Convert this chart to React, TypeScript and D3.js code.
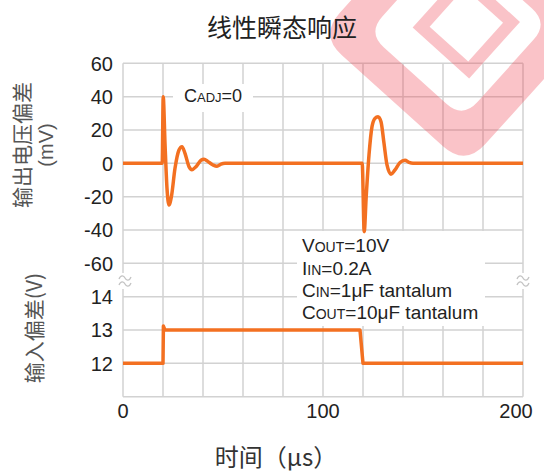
import React from 'react';
import * as d3 from 'd3';

// upper trace: output voltage deviation (mV) vs time (us)
const TIME_OUT = [0, 19.6, 20.1, 21, 22, 23, 24.2, 26, 28, 29.5, 31, 33, 34.5, 36.5, 39, 40.5, 42.5, 45, 47, 49, 51,
  119.6, 120.6, 121.6, 123, 124.5, 126, 127.5, 129, 130.5, 132, 134, 136, 138.5, 141, 143, 145, 200];
const DEV_MV = [0, 0, 40, 12, -15, -25, -20, -3, 8, 10, 6, -2, -3.8, -2, 1.8, 2.4, 1, -1, -1.8, -0.5, 0,
  0, -41, -20, 5, 22, 27, 28, 25, 12, -1, -6.5, -4, 0.5, 1.8, 0.5, 0, 0];

// lower trace: input voltage (V)
const TIME_IN = [0, 20, 20.2, 21, 118.5, 120, 200];
const VIN = [12, 12, 13.12, 13, 13, 12, 12];

const X_TICKS = [0, 100, 200];
const X_GRID = d3.range(0, 201, 20);
const MV_TICKS = [60, 40, 20, 0, -20, -40, -60];
const V_TICKS = [14, 13, 12];
const V_GRID = [14, 13, 12, 11];

const TITLE = '线性瞬态响应';
const X_TITLE = '时间（μs）';
const Y_TITLE_1 = '输出电压偏差';
const Y_TITLE_2 = '(mV)';
const Y_TITLE_IN = '输入偏差(V)';

const ORANGE = '#f37021';
const GRID = '#d2d2d2';
const SANS = 'Arial, "Liberation Sans", sans-serif';
const CJK = '"Noto Sans CJK SC", sans-serif';

const App: React.FC = () => {
  const width = 544;
  const height = 471;

  const x = d3.scaleLinear().domain([0, 200]).range([123, 523]);
  const yOut = d3.scaleLinear().domain([-60, 60]).range([263.3, 63.3]);
  const yIn = d3.scaleLinear().domain([11, 14]).range([396.7, 296.7]);

  const outLine = d3
    .line<number>()
    .x((_, i) => x(TIME_OUT[i]))
    .y((d) => yOut(d))
    .curve(d3.curveMonotoneX);

  const inLine = d3
    .line<number>()
    .x((_, i) => x(TIME_IN[i]))
    .y((d) => yIn(d));

  const top = yOut(60);
  const bottom = yIn(11);
  const breakY = (yOut(-60) + yIn(14)) / 2 + 1;

  const tilde = (cx: number, cy: number) => (
    <g transform={`translate(${cx},${cy})`} fill="none" stroke="#c4c4c4" strokeWidth={1.3}>
      <rect x={-7} y={-8} width={14} height={16} fill="#fff" stroke="none" />
      <path d="M-6,-2 C-4,-7 -1,-5 0,-3 S4,1 6,-4" />
      <path d="M-6,4 C-4,-1 -1,1 0,3 S4,7 6,2" />
    </g>
  );

  return (
    <svg width={width} height={height} style={{ position: 'absolute', left: 0, top: 0 }}>
      <rect width={width} height={height} fill="#fff" />

      {/* grid */}
      {X_GRID.map((t) => (
        <line key={`gx${t}`} x1={x(t)} x2={x(t)} y1={top} y2={bottom} stroke={GRID} strokeWidth={1.5} />
      ))}
      {MV_TICKS.map((v) => (
        <line key={`gm${v}`} x1={x(0)} x2={x(200)} y1={yOut(v)} y2={yOut(v)} stroke={GRID} strokeWidth={1.5} />
      ))}
      {V_GRID.map((v) => (
        <line key={`gv${v}`} x1={x(0)} x2={x(200)} y1={yIn(v)} y2={yIn(v)} stroke={GRID} strokeWidth={1.5} />
      ))}

      {/* watermark */}
      <g transform="translate(458,28) rotate(42)" fill="#f03c4b" opacity={0.3}>
        <path
          fillRule="evenodd"
          d="M-98,-68 Q-98,-98 -68,-98 L68,-98 Q98,-98 98,-68 L98,68 Q98,98 68,98 L-68,98 Q-98,98 -98,68 Z
             M-64,-42 Q-64,-64 -42,-64 L42,-64 Q64,-64 64,-42 L64,42 Q64,64 42,64 L-42,64 Q-64,64 -64,42 Z"
        />
        <path
          fillRule="evenodd"
          d="M-34,-46 L42,-46 L42,30 L-34,30 Z M-22,-34 L30,-34 L30,18 L-22,18 Z"
        />
      </g>

      {/* axis breaks */}
      {tilde(x(0) + 2, breakY)}
      {tilde(x(200), breakY)}

      {/* annotation boxes */}
      <rect x={173} y={84} width={80} height={28} fill="#fff" />
      <text x={184} y={102} fontFamily={SANS} fontSize={18} fill="#222">
        C<tspan fontSize={13}>ADJ</tspan>=0
      </text>

      <rect x={297} y={231} width={188} height={95} fill="#fff" />
      <g fontFamily={SANS} fontSize={19} fill="#222">
        <text x={302} y={252}>
          V<tspan fontSize={14}>OUT</tspan>=10V
        </text>
        <text x={302} y={275}>
          I<tspan fontSize={14}>IN</tspan>=0.2A
        </text>
        <text x={302} y={297}>
          C<tspan fontSize={14}>IN</tspan>=1μF tantalum
        </text>
        <text x={302} y={319}>
          C<tspan fontSize={14}>OUT</tspan>=10μF tantalum
        </text>
      </g>

      {/* traces */}
      <path d={outLine(DEV_MV) ?? ''} fill="none" stroke={ORANGE} strokeWidth={3.5} strokeLinejoin="round" />
      <path d={inLine(VIN) ?? ''} fill="none" stroke={ORANGE} strokeWidth={3.5} strokeLinejoin="round" />

      {/* y tick labels */}
      <g fontFamily={SANS} fontSize={20} fill="#222" textAnchor="end">
        {MV_TICKS.map((v) => (
          <text key={`tm${v}`} x={113} y={yOut(v)} dy="0.36em">
            {v}
          </text>
        ))}
        {V_TICKS.map((v) => (
          <text key={`tv${v}`} x={113} y={yIn(v)} dy="0.36em">
            {v}
          </text>
        ))}
      </g>

      {/* x tick labels */}
      <g fontFamily={SANS} fontSize={20} fill="#222" textAnchor="middle">
        {X_TICKS.map((t) => (
          <text key={`tx${t}`} x={x(t)} dx={t === 200 ? -7 : 0} y={418}>
            {t}
          </text>
        ))}
      </g>

      {/* titles */}
      <text x={282} y={26} textAnchor="middle" dominantBaseline="central" fontFamily={CJK} fontSize={25} fill="#222">
        {TITLE}
      </text>
      <text x={276} y={455} textAnchor="middle" dominantBaseline="central" fontFamily={CJK} fontSize={24} fill="#333">
        {X_TITLE}
      </text>
      <text
        transform="translate(21,145) rotate(-90)"
        textAnchor="middle"
        dominantBaseline="central"
        fontFamily={CJK}
        fontSize={21}
        fill="#555"
      >
        {Y_TITLE_1}
      </text>
      <text
        transform="translate(46,145) rotate(-90)"
        textAnchor="middle"
        dominantBaseline="central"
        fontFamily={SANS}
        fontSize={20}
        fill="#555"
      >
        {Y_TITLE_2}
      </text>
      <text
        transform="translate(33,328) rotate(-90)"
        textAnchor="middle"
        dominantBaseline="central"
        fontFamily={CJK}
        fontSize={21}
        fill="#555"
      >
        {Y_TITLE_IN}
      </text>
    </svg>
  );
};

export default App;
